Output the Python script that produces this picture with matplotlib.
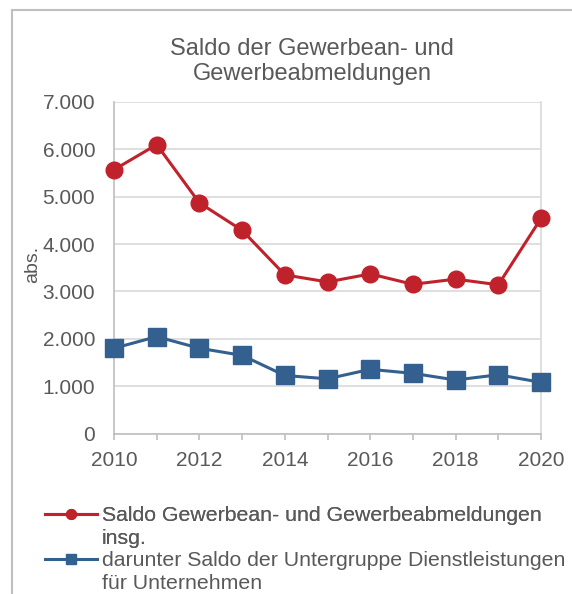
import matplotlib
matplotlib.use('Agg')
import matplotlib.pyplot as plt
from matplotlib.patches import Rectangle
from matplotlib.lines import Line2D
from matplotlib.ticker import FuncFormatter, MultipleLocator

plt.rcParams['font.family'] = ['Liberation Sans', 'DejaVu Sans']

# data
years = [2010, 2011, 2012, 2013, 2014, 2015, 2016, 2017, 2018, 2019, 2020]
saldo_total = [5570, 6100, 4870, 4290, 3350, 3200, 3370, 3150, 3260, 3140, 4540]
saldo_dienst = [1800, 2045, 1800, 1650, 1225, 1155, 1355, 1270, 1130, 1240, 1080]
label_total = ['Saldo Gewerbean- und Gewerbeabmeldungen', 'insg.']
label_dienst = ['darunter Saldo der Untergruppe Dienstleistungen', 'für Unternehmen']
title = 'Saldo der Gewerbean- und\nGewerbeabmeldungen'

txt = '#595959'
red = '#C0222C'
blue = '#34608F'

fig = plt.figure(figsize=(5.72, 5.94), dpi=100)
fig.patches.append(Rectangle((12/572, -0.01), 1.0, 1 - 10/594 + 0.01, transform=fig.transFigure,
                             fill=False, edgecolor='#BFBFBF', linewidth=1.5))

ax = fig.add_axes([114/572, 1 - 433.5/594, 427/572, 331.5/594])

ax.plot(years, saldo_total, color=red, lw=2.2, marker='o', ms=12, clip_on=False, zorder=3)
ax.plot(years, saldo_dienst, color=blue, lw=2.2, marker='s', ms=12.5, clip_on=False, zorder=3)

ax.set_xlim(2010, 2020)
ax.set_ylim(0, 7000)
ax.yaxis.set_major_locator(MultipleLocator(1000))
ax.yaxis.set_major_formatter(FuncFormatter(lambda v, p: f'{int(v):,}'.replace(',', '.')))
ax.xaxis.set_major_locator(MultipleLocator(2))
ax.xaxis.set_minor_locator(MultipleLocator(1))
ax.grid(axis='y', color='#D9D9D9', lw=1.2)
ax.set_axisbelow(True)

ax.spines['top'].set_visible(False)
ax.spines['right'].set_color('#D9D9D9')
ax.spines['left'].set_color('#BFBFBF')
ax.spines['bottom'].set_color('#BFBFBF')
for sp in ax.spines.values():
    sp.set_linewidth(1.2)

ax.tick_params(axis='y', length=0, labelsize=15, labelcolor=txt, pad=13.5)
ax.tick_params(axis='x', which='both', length=4.3, width=1.2, color='#BFBFBF',
               labelsize=15, labelcolor=txt, pad=8.5)

ax.set_ylabel('abs.', fontsize=14, color=txt)
ax.yaxis.set_label_coords(-0.17, 0.51)
fig.text(312/572, 1 - 38/594, title, ha='center', va='top', fontsize=17,
         color=txt, linespacing=1.15)

# legend: handle sits on the first line of each wrapped label
blank = Line2D([], [], color='none')
h1 = Line2D([], [], color=red, lw=2.2, marker='o', ms=7)
h2 = Line2D([], [], color=blue, lw=2.2, marker='s', ms=7.5)
kw = dict(loc='upper left', frameon=False, fontsize=15.3, labelcolor=txt,
          handlelength=2.45, handletextpad=0.22, borderaxespad=0, borderpad=0,
          labelspacing=0.2)
leg1 = fig.legend([h1, blank], label_total, bbox_to_anchor=(45/572, 1 - 506/594), **kw)
fig.add_artist(leg1)
fig.legend([h2, blank], label_dienst, bbox_to_anchor=(45/572, 1 - 551/594), **kw)

plt.savefig('out.png', dpi=100, facecolor='w')
